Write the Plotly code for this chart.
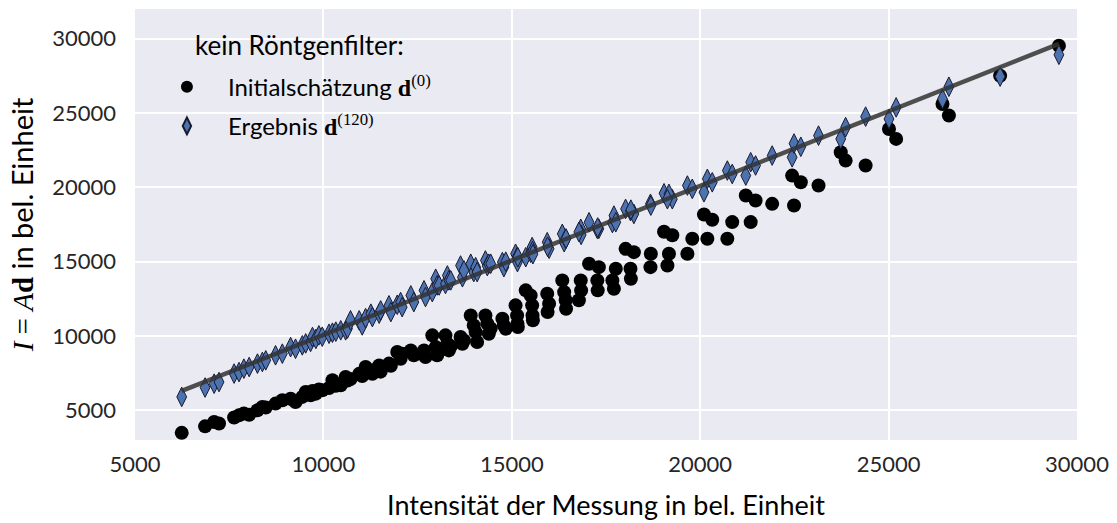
import plotly.graph_objects as go

# measured intensity (x), initial estimate d(0) (black), result d(120) (blue)
x_mess = [6240, 6860, 7100, 7230, 7630, 7760, 7890, 8030, 8250, 8380, 8470, 8730, 8910, 9130, 9260,
          9440, 9530, 9660, 9710, 9800, 9880, 9970, 10150, 10240, 10330, 10460, 10590, 10640, 10720,
          10950, 11030, 11120, 11260, 11300, 11480, 11520, 11740, 11790, 11960, 12050, 12090, 12320,
          12400, 12670, 12710, 12890, 12980, 13020, 13070, 13240, 13290, 13330, 13380, 13640, 13690,
          13730, 13910, 13990, 14040, 14080, 14300, 14350, 14390, 14440, 14750, 14790, 14840, 15100,
          15140, 15150, 15160, 15370, 15500, 15540, 15550, 15560, 15940, 15990, 15950, 16340, 16390,
          16430, 16440, 16830, 16840, 16780, 17050, 17310, 17270, 17280, 17670, 17710, 17760, 18020,
          18240, 18150, 18160, 18680, 18690, 19040, 19260, 19170, 19130, 19660, 19790, 20100, 20190,
          20320, 20720, 20850, 21210, 21340, 21470, 21910, 22440, 22490, 22670, 23140, 23730, 23860,
          24390, 25010, 25200, 26430, 26600, 27960, 29520]

d_initial = [3480, 3920, 4210, 4110, 4510, 4660, 4780, 4700, 5000, 5220, 5180, 5450, 5670, 5780, 5560,
             5900, 6230, 6010, 6300, 6120, 6400, 6340, 6500, 7020, 6650, 6680, 7240, 7000, 7100,
             7450, 7300, 7910, 7690, 7450, 8020, 7600, 8140, 8000, 8920, 8470, 8810, 9030,
             8700, 9030, 8580, 10040, 9250, 8700, 9100, 10040, 9480, 9030, 9300, 9930, 9480,
             9700, 11380, 10710, 10260, 9590, 11380, 10830, 10150, 10500, 11160, 10710, 10490, 12060,
             11380, 10830, 10600, 13070, 12730, 12060, 11380, 11050, 12840, 12170, 11610, 13740, 12950,
             12400, 11830, 13740, 13070, 12400, 14860, 14630, 13740, 13070, 13740, 13180, 14520, 15860,
             15640, 14520, 13850, 14630, 15530, 17010, 16780, 15530, 14740, 15530, 16540, 18170, 16540,
             17820, 16540, 17660, 19450, 17660, 19110, 18890, 20790, 18780, 20340, 20120, 22360, 21800,
             21470, 23930, 23260, 25610, 24830, 27510, 29530]

d_result = [5900, 6530, 6790, 6900, 7470, 7570, 7800, 7910, 8140, 8250, 8360, 8700, 8810, 9250, 9140,
            9370, 9500, 9600, 9930, 9800, 10040, 9950, 10150, 10220, 10290, 10380, 10380, 10500, 11050,
            11050, 10710, 11200, 11500, 11270, 11500, 11720, 12060, 11610, 12100, 12280, 11940, 12730,
            12280, 13070, 12620, 12950, 13850, 13400, 13400, 13500, 14070, 13740, 13740, 14740, 13950,
            14410, 14860, 14300, 14630, 14300, 15080, 14700, 14860, 14860, 14970, 14630, 15000, 15530,
            15300, 14970, 15300, 15300, 15600, 15980, 15700, 15500, 16310, 15870, 16000, 16870, 16310,
            16550, 16550, 17210, 16800, 17000, 17650, 17210, 17200, 17300, 17600, 18100, 17650, 18550,
            18210, 18400, 18500, 18890, 18770, 19600, 19200, 19560, 19200, 20120, 19900, 19670, 20570,
            20340, 21130, 20900, 20790, 21690, 21470, 22140, 22020, 22950, 22730, 23480, 23260, 24050,
            24760, 24600, 25380, 25950, 26770, 27450, 28920]

# regression line endpoints
fit_x = [6240, 29520]
fit_y = [6300, 29650]

tick_vals = [5000, 10000, 15000, 20000, 25000, 30000]
tick_text = ["5000", "10000", "15000", "20000", "25000", "30000"]

legend_title = "kein Röntgenfilter:"

AXIS_FONT = "Lato"
MATH = "<span style='font-family:Liberation Serif'>"

fig = go.Figure()
fig.add_trace(go.Scatter(
    x=x_mess, y=d_initial, mode="markers", legendgroup="a",
    name="Initialschätzung " + MATH + "<b>d</b><sup>(0)</sup></span>",
    marker=dict(symbol="circle", size=14, color="black", line=dict(width=0)),
))
fig.add_trace(go.Scatter(
    x=x_mess, y=d_result, mode="markers", legendgroup="b",
    name="Ergebnis " + MATH + "<b>d</b><sup>(120)</sup></span>",
    marker=dict(symbol="diamond-tall", size=14, color="#4C72B0",
                line=dict(width=1, color="#1a1a2e")),
))
fig.add_trace(go.Scatter(
    x=fit_x, y=fit_y, mode="lines", showlegend=False,
    line=dict(color="rgba(50,50,50,0.85)", width=4.5),
))

fig.add_annotation(
    text=legend_title, xref="paper", yref="paper",
    x=(193 - 135) / 942, y=1 - (45 - 9) / 431, xanchor="left", yanchor="middle",
    showarrow=False, font=dict(size=26, color="black"),
)

fig.update_layout(
    width=1117, height=523,
    margin=dict(l=135, r=40, t=9, b=83),
    paper_bgcolor="white", plot_bgcolor="#EAEAF2",
    font=dict(family=AXIS_FONT, size=22, color="#262626"),
    showlegend=True,
    legend=dict(
        x=0.0116, y=0.871, xanchor="left", yanchor="top",
        bgcolor="rgba(0,0,0,0)", borderwidth=0,
        font=dict(size=24, color="black"),
        itemsizing="constant", itemwidth=72,
        traceorder="grouped", tracegroupgap=5,
    ),
)
fig.update_xaxes(
    range=[5000, 30000], tickvals=tick_vals, ticktext=tick_text, automargin=False,
    showgrid=True, gridcolor="white", gridwidth=2, zeroline=False, showline=False,
    ticks="", tickfont=dict(size=22, color="#262626"), ticklabelstandoff=9,
    title=dict(text="Intensität der Messung in bel. Einheit", font=dict(size=27, color="black"), standoff=20),
)
fig.update_yaxes(
    range=[3000, 32000], tickvals=tick_vals, ticktext=tick_text, automargin=False,
    showgrid=True, gridcolor="white", gridwidth=2, zeroline=False, showline=False,
    ticks="", tickfont=dict(size=22, color="#262626"), ticklabelstandoff=18,
    title=dict(text=MATH + "<i>I</i> = <i>A</i><b>d</b></span> in bel. Einheit",
               font=dict(size=29, color="black"), standoff=10),
)

fig.write_html("out.html")
